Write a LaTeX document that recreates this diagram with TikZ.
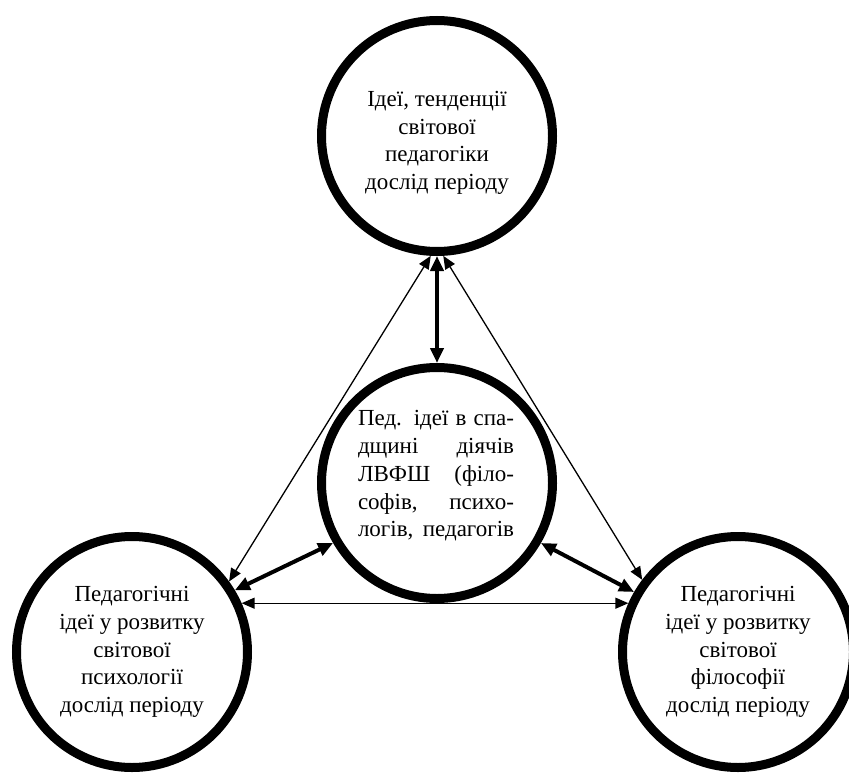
\documentclass[tikz,border=0pt]{standalone}
\usepackage{fontspec}
\setmainfont{Liberation Serif}
\usetikzlibrary{arrows.meta}
\tikzset{
  bigcircle/.style={circle, draw, line width=9pt, minimum size=231pt, inner sep=0pt, align=center,
    font=\fontsize{23}{27.7}\selectfont},
  txt/.style={align=center, font=\fontsize{23}{27.7}\selectfont, inner sep=0pt},
  thinarr/.style={{Triangle[length=13pt,width=11pt]}-{Triangle[length=13pt,width=11pt]}, line width=1.3pt},
  thickarr/.style={{Triangle[length=15pt,width=13pt]}-{Triangle[length=15pt,width=13pt]}, line width=4pt},
}
\begin{document}
\begin{tikzpicture}[x=1pt,y=-1pt]
\useasboundingbox (0,0) rectangle (849,773);
\node[bigcircle] (T) at (437,136) {};
\node[txt] (Tt) at (437,143) {Ідеї, тенденції\\світової\\педагогіки\\дослід періоду};
\node[bigcircle] (C) at (437,483) {};
\node[txt] (Ct) at (436,476) {%
  \makebox[156pt][s]{Пед. ідеї в спа-}\\
  \makebox[156pt][s]{дщині діячів}\\
  \makebox[156pt][s]{ЛВФШ (філо-}\\
  \makebox[156pt][s]{софів, психо-}\\
  \makebox[156pt][s]{логів, педагогів}};
\node[bigcircle] (L) at (132,652) {Педагогічні\\ідеї у розвитку\\світової\\психології\\дослід періоду};
\node[bigcircle] (R) at (738,652) {Педагогічні\\ідеї у розвитку\\світової\\філософії\\дослід періоду};
\draw[thickarr] (T.south) -- (C.north);
\draw[thinarr] (T.267) -- (L.36);
\draw[thinarr] (T.273) -- (R.143);
\draw[thickarr] (C.210) -- (L.31);
\draw[thickarr] (C.330) -- (R.150);
\draw[thinarr] (L.24) -- (R.156);
\end{tikzpicture}
\end{document}
